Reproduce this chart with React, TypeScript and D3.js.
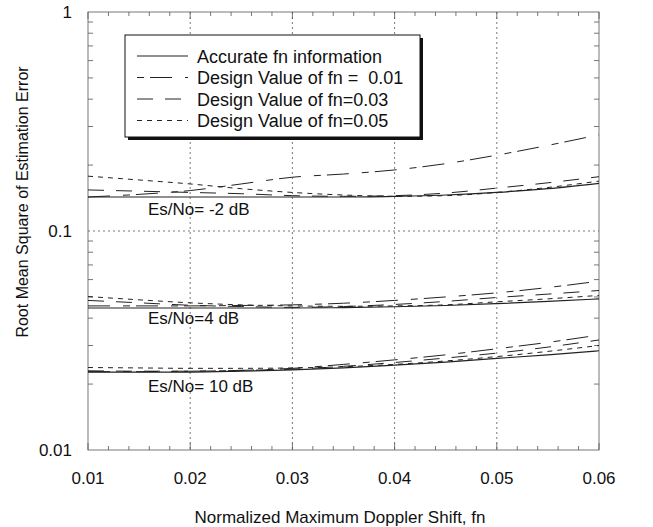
import React, { useEffect, useRef } from 'react';
import * as d3 from 'd3';

// normalized doppler shift (x)
const fnValues = [0.01, 0.015, 0.02, 0.025, 0.03, 0.035, 0.04, 0.045, 0.05, 0.055, 0.06];

// Es/No = -2 dB
const accM2 = [0.143, 0.143, 0.143, 0.143, 0.143, 0.143, 0.144, 0.146, 0.150, 0.156, 0.165];
const d01M2 = [0.143, 0.147, 0.153, 0.164, 0.176, 0.182, 0.190, 0.203, 0.222, 0.246, 0.275];
const d03M2 = [0.154, 0.152, 0.150, 0.148, 0.145, 0.144, 0.145, 0.149, 0.157, 0.166, 0.177];
const d05M2 = [0.178, 0.171, 0.164, 0.156, 0.150, 0.146, 0.144, 0.145, 0.150, 0.158, 0.169];

// Es/No = 4 dB
const acc4 = [0.0445, 0.0445, 0.0445, 0.0445, 0.0445, 0.0447, 0.0451, 0.0457, 0.0466, 0.0477, 0.049];
const d014 = [0.0455, 0.0455, 0.0455, 0.0457, 0.046, 0.0468, 0.0482, 0.050, 0.0522, 0.0552, 0.059];
const d034 = [0.0482, 0.047, 0.0458, 0.0452, 0.0448, 0.0452, 0.0462, 0.0477, 0.0497, 0.0515, 0.0535];
const d054 = [0.0502, 0.0485, 0.047, 0.046, 0.0455, 0.0453, 0.0455, 0.046, 0.0475, 0.049, 0.0508];

// Es/No = 10 dB
const acc10 = [0.0227, 0.0227, 0.0227, 0.0229, 0.0232, 0.0237, 0.0244, 0.0252, 0.0262, 0.0272, 0.0284];
const d0110 = [0.0228, 0.0228, 0.0229, 0.0231, 0.0236, 0.0246, 0.0258, 0.0272, 0.0290, 0.031, 0.0335];
const d0310 = [0.0230, 0.0229, 0.0229, 0.0231, 0.0234, 0.0241, 0.0251, 0.0263, 0.0277, 0.0295, 0.0318];
const d0510 = [0.0238, 0.0237, 0.0236, 0.0236, 0.0237, 0.0240, 0.0246, 0.0255, 0.0267, 0.0282, 0.0300];

const groupLabels = ['Es/No= -2 dB', 'Es/No=4 dB', 'Es/No= 10 dB'];
const groupLabelValues = [0.118, 0.0375, 0.0184];
const legendLabels = [
    'Accurate fn information',
    'Design Value of fn =\u00a0 0.01',
    'Design Value of fn=0.03',
    'Design Value of fn=0.05',
];
const xTicks = [0.01, 0.02, 0.03, 0.04, 0.05, 0.06];
const yTicks = [0.01, 0.1, 1];

const dashes = [null, '22 13 7 6', '16 12', '5 5'];
const legendOffsets = [0, 35, 0, 0];

export default function App() {
    const svgRef = useRef<SVGSVGElement>(null);

    useEffect(() => {
        const W = 653, H = 527;
        const left = 88, right = 599, top = 12, bottom = 450;
        const font = 'Arial, "Liberation Sans", sans-serif';

        const svg = d3.select(svgRef.current);
        svg.selectAll('*').remove();
        svg.attr('width', W).attr('height', H);

        svg.append('rect').attr('width', W).attr('height', H).attr('fill', 'white');

        const x = d3.scaleLinear().domain([0.01, 0.06]).range([left, right]);
        const y = d3.scaleLog().domain([0.01, 1]).range([bottom, top]);

        // grid
        const grid = svg.append('g').attr('stroke', '#555').attr('stroke-width', 0.8)
            .attr('stroke-dasharray', '2 3');
        [0.02, 0.03, 0.04, 0.05].forEach(v => {
            grid.append('line').attr('x1', x(v)).attr('x2', x(v)).attr('y1', top).attr('y2', bottom);
        });
        grid.append('line').attr('x1', left).attr('x2', right).attr('y1', y(0.1)).attr('y2', y(0.1));

        // ticks
        const ticks = svg.append('g').attr('stroke', '#555').attr('stroke-width', 0.8);
        for (let i = 0; i <= 25; i++) {
            const v = 0.01 + i * 0.002;
            const major = i % 5 === 0;
            const len = major ? 7 : 4;
            ticks.append('line').attr('x1', x(v)).attr('x2', x(v)).attr('y1', bottom).attr('y2', bottom - len);
            ticks.append('line').attr('x1', x(v)).attr('x2', x(v)).attr('y1', top).attr('y2', top + len);
        }
        const yMinor: number[] = [];
        [0.01, 0.1].forEach(d => { for (let k = 2; k <= 9; k++) yMinor.push(d * k); });
        yMinor.forEach(v => {
            ticks.append('line').attr('x1', left).attr('x2', left + 5).attr('y1', y(v)).attr('y2', y(v));
            ticks.append('line').attr('x1', right).attr('x2', right - 5).attr('y1', y(v)).attr('y2', y(v));
        });

        // frame
        svg.append('rect').attr('x', left).attr('y', top).attr('width', right - left).attr('height', bottom - top)
            .attr('fill', 'none').attr('stroke', '#555').attr('stroke-width', 0.8);

        // curves
        const line = d3.line<number>()
            .x((d, i) => x(fnValues[i]))
            .y(d => y(d))
            .curve(d3.curveMonotoneX);

        const groups = [
            [accM2, d01M2, d03M2, d05M2],
            [acc4, d014, d034, d054],
            [acc10, d0110, d0310, d0510],
        ];
        groups.forEach(g => {
            g.forEach((s, si) => {
                svg.append('path')
                    .attr('d', line(s))
                    .attr('fill', 'none')
                    .attr('stroke', '#222')
                    .attr('stroke-width', si === 0 ? 1.2 : 1)
                    .attr('stroke-dasharray', dashes[si]);
            });
        });

        // group labels
        groupLabels.forEach((t, i) => {
            svg.append('text')
                .attr('x', 148)
                .attr('y', y(groupLabelValues[i]))
                .attr('font-family', font)
                .attr('font-size', 17)
                .attr('fill', '#111')
                .text(t);
        });

        // legend
        const lx = 125, ly = 35, lw = 295, lh = 102;
        svg.append('rect').attr('x', lx + 3).attr('y', ly + 3).attr('width', lw).attr('height', lh).attr('fill', '#111');
        svg.append('rect').attr('x', lx).attr('y', ly).attr('width', lw).attr('height', lh)
            .attr('fill', 'white').attr('stroke', '#111').attr('stroke-width', 1);
        legendLabels.forEach((t, i) => {
            const ry = 56 + i * 21.5;
            svg.append('line')
                .attr('x1', 137).attr('x2', 188).attr('y1', ry).attr('y2', ry)
                .attr('stroke', '#222').attr('stroke-width', 1)
                .attr('stroke-dasharray', dashes[i])
                .attr('stroke-dashoffset', legendOffsets[i]);
            svg.append('text')
                .attr('x', 197).attr('y', ry + 6.5)
                .attr('font-family', font).attr('font-size', 18).attr('fill', '#111')
                .text(t);
        });

        // tick labels
        xTicks.forEach(v => {
            svg.append('text')
                .attr('x', x(v)).attr('y', 484)
                .attr('text-anchor', 'middle')
                .attr('font-family', font).attr('font-size', 17).attr('fill', '#111')
                .text(String(v));
        });
        yTicks.forEach(v => {
            svg.append('text')
                .attr('x', 72).attr('y', y(v) + 6)
                .attr('text-anchor', 'end')
                .attr('font-family', font).attr('font-size', 17).attr('fill', '#111')
                .text(String(v));
        });

        // axis titles
        svg.append('text')
            .attr('x', 340).attr('y', 523)
            .attr('text-anchor', 'middle')
            .attr('font-family', font).attr('font-size', 17).attr('fill', '#111')
            .text('Normalized Maximum Doppler Shift, fn');
        svg.append('text')
            .attr('transform', 'translate(28,202) rotate(-90)')
            .attr('text-anchor', 'middle')
            .attr('font-family', font).attr('font-size', 16).attr('fill', '#111')
            .text('Root Mean Square of Estimation Error');
    }, []);

    return (
        <div style={{ position: 'absolute', left: 0, top: 0 }}>
            <svg ref={svgRef} style={{ display: 'block' }}></svg>
        </div>
    );
}
